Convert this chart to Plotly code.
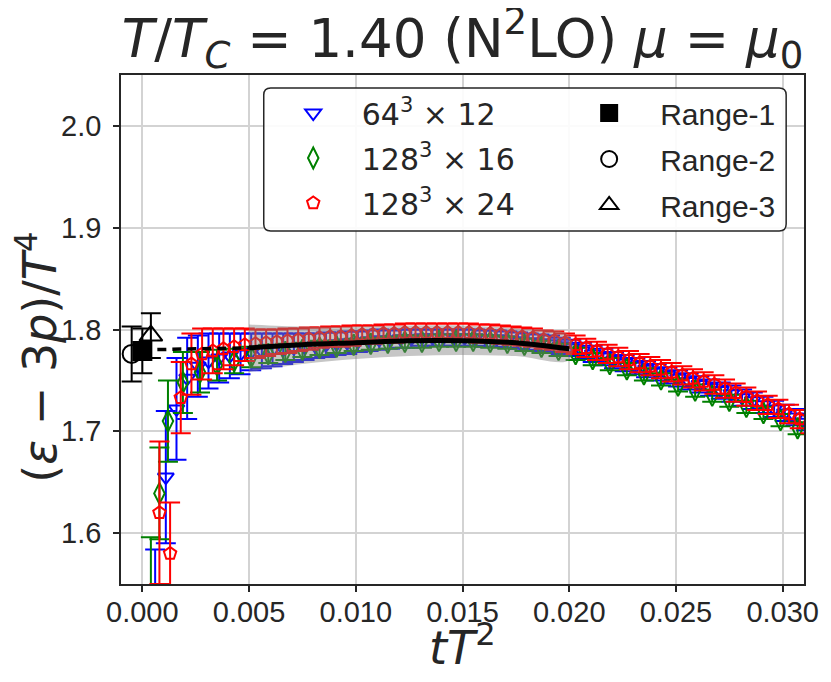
import plotly.graph_objects as go

# 64^3 x 12 (blue)
x_64 = [0.0006, 0.0011, 0.0016, 0.0021, 0.0026, 0.0031, 0.0036, 0.0041, 0.0046, 0.0051,
        0.0056, 0.0061, 0.0066, 0.0071, 0.0076, 0.0081, 0.0086, 0.0091, 0.0096, 0.0101,
        0.0106, 0.0111, 0.0116, 0.0121, 0.0126, 0.0131, 0.0136, 0.0141, 0.0146, 0.0151,
        0.0156, 0.0161, 0.0166, 0.0171, 0.0176, 0.0181, 0.0186, 0.0191, 0.0196, 0.0201,
        0.0206, 0.0211, 0.0216, 0.0221, 0.0226, 0.0231, 0.0236, 0.0241, 0.0246, 0.0251,
        0.0256, 0.0261, 0.0266, 0.0271, 0.0276, 0.0281, 0.0286, 0.0291, 0.0296, 0.0301,
        0.0306, 0.0311]
y_64 = [1.500, 1.655, 1.722, 1.752, 1.764, 1.769, 1.772, 1.774, 1.776, 1.778,
        1.779, 1.780, 1.781, 1.782, 1.783, 1.784, 1.785, 1.786, 1.787, 1.788,
        1.789, 1.790, 1.790, 1.791, 1.791, 1.792, 1.792, 1.792, 1.792, 1.792,
        1.792, 1.791, 1.791, 1.790, 1.789, 1.788, 1.787, 1.786, 1.784, 1.782,
        1.779, 1.776, 1.773, 1.770, 1.767, 1.764, 1.761, 1.758, 1.755, 1.752,
        1.749, 1.746, 1.743, 1.740, 1.737, 1.733, 1.730, 1.726, 1.722, 1.718,
        1.714, 1.709]
e_64 = [0.084, 0.065, 0.050, 0.040, 0.030, 0.027, 0.024, 0.022, 0.020, 0.018,
        0.017, 0.016, 0.015, 0.014, 0.013, 0.012, 0.012, 0.011, 0.011, 0.010,
        0.010, 0.010, 0.009, 0.009, 0.009, 0.008, 0.008, 0.008, 0.008, 0.008,
        0.008, 0.008, 0.008, 0.008, 0.008, 0.008, 0.008, 0.008, 0.008, 0.008,
        0.008, 0.008, 0.008, 0.008, 0.008, 0.008, 0.008, 0.008, 0.008, 0.008,
        0.008, 0.008, 0.008, 0.008, 0.008, 0.008, 0.008, 0.008, 0.008, 0.008,
        0.008, 0.008]

# 128^3 x 16 (green)
x_16 = [0.0004, 0.0008, 0.0012, 0.0019, 0.0027, 0.0035, 0.0043, 0.0051, 0.0059, 0.0067,
        0.0075, 0.0083, 0.0091, 0.0099, 0.0107, 0.0115, 0.0123, 0.0131, 0.0139, 0.0147,
        0.0155, 0.0163, 0.0171, 0.0179, 0.0187, 0.0195, 0.0203, 0.0211, 0.0219, 0.0227,
        0.0235, 0.0243, 0.0251, 0.0259, 0.0267, 0.0275, 0.0283, 0.0291, 0.0299, 0.0307,
        0.0315]
y_16 = [1.520, 1.639, 1.710, 1.748, 1.758, 1.765, 1.769, 1.773, 1.776, 1.778,
        1.780, 1.782, 1.783, 1.785, 1.786, 1.787, 1.788, 1.788, 1.789, 1.789,
        1.789, 1.788, 1.787, 1.785, 1.783, 1.780, 1.776, 1.771, 1.766, 1.761,
        1.756, 1.751, 1.745, 1.740, 1.735, 1.730, 1.724, 1.718, 1.711, 1.703,
        1.695]
e_16 = [0.076, 0.045, 0.040, 0.030, 0.020, 0.015, 0.012, 0.010, 0.009, 0.008,
        0.007, 0.007, 0.006, 0.006, 0.006, 0.006, 0.006, 0.006, 0.006, 0.006,
        0.006, 0.006, 0.006, 0.006, 0.006, 0.006, 0.006, 0.006, 0.006, 0.006,
        0.006, 0.006, 0.006, 0.006, 0.006, 0.006, 0.006, 0.006, 0.006, 0.006,
        0.006]

# 128^3 x 24 (red)
x_24 = [0.0008, 0.0013, 0.0018, 0.0023, 0.0028, 0.0033, 0.0038, 0.0043, 0.0048, 0.0053,
        0.0058, 0.0063, 0.0068, 0.0073, 0.0078, 0.0083, 0.0088, 0.0093, 0.0098, 0.0103,
        0.0108, 0.0113, 0.0118, 0.0123, 0.0128, 0.0133, 0.0138, 0.0143, 0.0148, 0.0153,
        0.0158, 0.0163, 0.0168, 0.0173, 0.0178, 0.0183, 0.0188, 0.0193, 0.0198, 0.0203,
        0.0208, 0.0213, 0.0218, 0.0223, 0.0228, 0.0233, 0.0238, 0.0243, 0.0248, 0.0253,
        0.0258, 0.0263, 0.0268, 0.0273, 0.0278, 0.0283, 0.0288, 0.0293, 0.0298, 0.0303,
        0.0308, 0.0313]
y_24 = [1.620, 1.580, 1.733, 1.766, 1.776, 1.779, 1.781, 1.783, 1.785, 1.786,
        1.787, 1.788, 1.789, 1.790, 1.791, 1.792, 1.793, 1.793, 1.794, 1.795,
        1.795, 1.796, 1.796, 1.797, 1.797, 1.797, 1.797, 1.797, 1.797, 1.797,
        1.796, 1.796, 1.795, 1.794, 1.793, 1.792, 1.790, 1.789, 1.787, 1.785,
        1.782, 1.779, 1.776, 1.773, 1.770, 1.767, 1.764, 1.761, 1.758, 1.755,
        1.752, 1.749, 1.746, 1.742, 1.738, 1.734, 1.730, 1.726, 1.722, 1.717,
        1.712, 1.707]
e_24 = [0.070, 0.050, 0.035, 0.030, 0.025, 0.022, 0.020, 0.018, 0.016, 0.014,
        0.013, 0.012, 0.012, 0.011, 0.011, 0.010, 0.010, 0.010, 0.010, 0.009,
        0.009, 0.009, 0.009, 0.009, 0.009, 0.009, 0.009, 0.009, 0.009, 0.009,
        0.009, 0.009, 0.009, 0.009, 0.009, 0.009, 0.009, 0.009, 0.009, 0.009,
        0.009, 0.009, 0.009, 0.009, 0.009, 0.009, 0.009, 0.009, 0.009, 0.009,
        0.009, 0.009, 0.009, 0.009, 0.009, 0.009, 0.009, 0.009, 0.009, 0.009,
        0.009, 0.009]

# continuum fit band and central line
fit_x = [0.005, 0.0075, 0.010, 0.0125, 0.015, 0.0175, 0.020]
fit_y = [1.782, 1.785, 1.787, 1.789, 1.789, 1.787, 1.781]
fit_hi = [1.805, 1.803, 1.803, 1.804, 1.804, 1.801, 1.794]
fit_lo = [1.758, 1.766, 1.771, 1.774, 1.775, 1.774, 1.770]
dash_x = [0.0, 0.005]
dash_y = [1.780, 1.782]

# extrapolated t -> 0 values
range_names = ['Range-1', 'Range-2', 'Range-3']
range_x = [0.0000, -0.0005, 0.0004]
range_y = [1.779, 1.776, 1.794]
range_e = [0.022, 0.027, 0.022]

x_ticks = [0.000, 0.005, 0.010, 0.015, 0.020, 0.025, 0.030]
y_ticks = [1.6, 1.7, 1.8, 1.9, 2.0]

ink = '#262626'
fig = go.Figure()

series = [
    (x_64, y_64, e_64, '64<sup>3</sup> × 12', 'blue', 'triangle-down-open', 14),
    (x_16, y_16, e_16, '128<sup>3</sup> × 16', 'green', 'diamond-tall-open', 15),
    (x_24, y_24, e_24, '128<sup>3</sup> × 24', 'red', 'pentagon-open', 13),
]
for i, (xs, ys, es, name, col, sym, sz) in enumerate(series):
    fig.add_trace(go.Scatter(
        x=xs, y=ys, mode='markers', name=name, legend='legend', legendgroup='s%d' % i,
        marker=dict(symbol=sym, size=sz, color=col, line=dict(width=2, color=col)),
        error_y=dict(type='data', array=es, color=col, thickness=2, width=10),
    ))

# gray band drawn over the data
fig.add_trace(go.Scatter(
    x=fit_x + fit_x[::-1], y=fit_hi + fit_lo[::-1], fill='toself', mode='lines',
    line=dict(width=0, shape='spline'), fillcolor='rgba(128,128,128,0.45)',
    showlegend=False, hoverinfo='skip'))
fig.add_trace(go.Scatter(x=fit_x, y=fit_y, mode='lines', line=dict(color='black', width=5, shape='spline'),
                         showlegend=False))
fig.add_trace(go.Scatter(x=dash_x, y=dash_y, mode='lines', line=dict(color='black', width=3.5, dash='9px,6px'),
                         showlegend=False))

range_style = [('square', 18), ('circle-open', 18), ('triangle-up-open', 20)]
for i, name in enumerate(range_names):
    sym, sz = range_style[i]
    fig.add_trace(go.Scatter(
        x=[range_x[i]], y=[range_y[i]], mode='markers', name=name, legend='legend2', legendgroup='r%d' % i,
        marker=dict(symbol=sym, size=sz, color='black', line=dict(width=2, color='black')),
        error_y=dict(type='data', array=[range_e[i]], color='black', thickness=2, width=10),
    ))

# the page puts the figure 8px in from the top-left corner; positions below are screen pixels
off = 8
L, T, W, H = 121, 75, 689, 509
px0, px1, py0, py1 = 265, 792, 88, 231
x0, x1 = (px0 - L) / W, (px1 - L) / W
y1, y0 = 1 - (py0 - T) / H, 1 - (py1 - T) / H
rx, ry = 7 / W, 7 / H
path = (f'M {x0+rx},{y0} L {x1-rx},{y0} Q {x1},{y0} {x1},{y0+ry} L {x1},{y1-ry} Q {x1},{y1} {x1-rx},{y1} '
        f'L {x0+rx},{y1} Q {x0},{y1} {x0},{y1-ry} L {x0},{y0+ry} Q {x0},{y0} {x0+rx},{y0} Z')
fig.add_shape(type='path', path=path, xref='paper', yref='paper', layer='above',
              line=dict(color=ink, width=1.5), fillcolor='rgba(255,255,255,0.9)')

# axis titles as annotations so they sit where the reference has them
fig.add_annotation(text='<i>tT</i><sup>2</sup>', x=0.5, xref='paper', y=-(645 - (T + H)) / H, yref='paper',
                   xanchor='center', yanchor='middle', showarrow=False,
                   font=dict(family='DejaVu Sans', size=46, color=ink))
# rotated text lands ~25px above its anchor, so the anchor sits lower than the wanted centre (331)
fig.add_annotation(text='(<i>ε</i> − 3<i>p</i>)/<i>T</i><sup>4</sup>', textangle=-90,
                   x=(36 - L) / W, xref='paper', y=1 - (357 - T) / H, yref='paper',
                   xanchor='center', yanchor='middle', showarrow=False,
                   font=dict(family='DejaVu Sans', size=46, color=ink))

axis_common = dict(
    showline=True, linecolor=ink, linewidth=1.5, mirror=True,
    ticks='outside', ticklen=6, tickwidth=1.5, tickcolor=ink,
    showgrid=True, gridcolor='#d3d3d3', gridwidth=1.5, zeroline=False,
    tickfont=dict(family='Liberation Sans, Arial', size=29, color=ink),
)

fig.update_layout(
    width=831 - off, height=682 - off, autosize=False,
    margin=dict(l=L - off, r=21, t=T - off, b=682 - T - H),
    plot_bgcolor='white', paper_bgcolor='white',
    title=dict(
        text='<i>T</i>/<i>T</i><sub><i>C</i></sub> = 1.40 (N<sup>2</sup>LO) <i>μ</i> = <i>μ</i><sub>0</sub>',
        font=dict(family='DejaVu Sans', size=53, color=ink),
        x=0.5, xref='paper', xanchor='center', y=1 - (38 - off) / (682 - off), yref='container', yanchor='middle'),
    xaxis=dict(range=[-0.001, 0.031], tickvals=x_ticks, tickformat='.3f', ticklabelstandoff=-5, **axis_common),
    yaxis=dict(range=[1.55, 2.05], tickvals=y_ticks, tickformat='.1f', ticklabelstandoff=6, **axis_common),
    legend=dict(x=(266 - L) / W, y=1 - (87 - T) / H, xanchor='left', yanchor='top', bgcolor='rgba(0,0,0,0)',
                font=dict(family='DejaVu Sans', size=30, color=ink), tracegroupgap=3, itemwidth=87),
    legend2=dict(x=(562 - L) / W, y=1 - (87 - T) / H, xanchor='left', yanchor='top', bgcolor='rgba(0,0,0,0)',
                 font=dict(family='Liberation Sans, Arial', size=30, color=ink), tracegroupgap=4, itemwidth=92),
)

fig.write_html('out.html')
